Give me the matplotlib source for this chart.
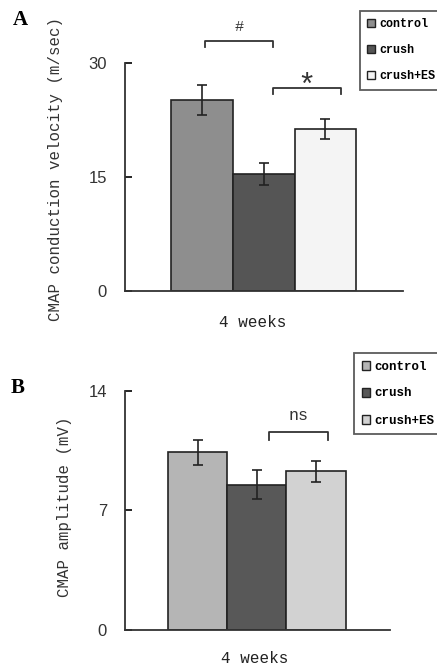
import matplotlib
matplotlib.use("Agg")
import matplotlib.pyplot as plt
from matplotlib.patches import Patch

groups = ["control", "crush", "crush+ES"]
vel_means = [25.1, 15.4, 21.3]
vel_errs = [2.0, 1.5, 1.35]
amp_means = [10.4, 8.5, 9.3]
amp_errs = [0.75, 0.85, 0.62]
colors_a = ["#8e8e8e", "#555555", "#f4f4f4"]
colors_b = ["#b5b5b5", "#585858", "#d2d2d2"]
xlabel = "4 weeks"

mono = ["Liberation Mono", "DejaVu Sans Mono"]
fig = plt.figure(figsize=(4.37, 6.68), dpi=100)

def panel(rect, means, errs, colors, ylim, yticks, ylab, xlim, ylab_pos, xlab_pos):
    ax = fig.add_axes(rect)
    x = list(range(len(means)))
    ax.bar(x, means, width=1.0, color=colors, edgecolor="#222222", linewidth=1.2)
    ax.errorbar(x, means, yerr=errs, fmt="none", ecolor="#222222", elinewidth=1.2, capsize=3.5, capthick=1.2)
    ax.set_xlim(*xlim)
    ax.set_ylim(*ylim)
    ax.set_yticks(yticks)
    ax.set_yticklabels([str(t) for t in yticks], fontsize=12, color="#333333", family="Liberation Sans")
    ax.tick_params(axis="y", direction="in", length=5, width=1.2, pad=13)
    ax.set_xticks([])
    for s in ["top", "right"]:
        ax.spines[s].set_visible(False)
    for s in ["left", "bottom"]:
        ax.spines[s].set_linewidth(1.3)
        ax.spines[s].set_color("#333333")
    ax.set_ylabel(ylab, fontsize=11.3, family=mono, color="#333333")
    ax.yaxis.set_label_coords(*ylab_pos)
    ax.set_xlabel(xlabel, fontsize=11.5, family=mono, color="#222222")
    ax.xaxis.set_label_coords(*xlab_pos)
    return ax

def bracket(ax, x0, x1, y, drop, text, fs, ty):
    ax.plot([x0, x0, x1, x1], [y - drop, y, y, y - drop], color="#333333", lw=1.3, clip_on=False)
    ax.text((x0 + x1) / 2, ty, text, ha="center", va="center", fontsize=fs, family=mono, color="#333333", clip_on=False)

axA = panel([0.286, 0.5644, 0.636, 0.3413], vel_means, vel_errs, colors_a, (0, 30), [0, 15, 30],
            "CMAP conduction velocity (m/sec)", (-1.245, 3.255), (-0.223, 0.535), (0.46, -0.105))
bracket(axA, 0.05, 1.15, 32.9, 0.8, "#", 11, 34.8)
bracket(axA, 1.15, 2.25, 26.7, 0.8, "*", 22, 26.9)

axB = panel([0.286, 0.0569, 0.606, 0.3578], amp_means, amp_errs, colors_b, (0, 14), [0, 7, 14],
            "CMAP amplitude (mV)", (-1.225, 3.244), (-0.2, 0.515), (0.49, -0.088))
bracket(axB, 1.2, 2.2, 11.6, 0.45, "ns", 12, 12.55)

def legend(ax, colors, anchor, size):
    handles = [Patch(facecolor=c, edgecolor="#222222", linewidth=1.0) for c in colors]
    leg = fig.legend(handles, groups, loc="upper left", bbox_to_anchor=anchor, bbox_transform=fig.transFigure,
                     prop={"family": mono, "size": size, "weight": "bold"}, handlelength=0.7, handleheight=0.7,
                     handletextpad=0.3, labelspacing=1.2, borderpad=0.6, fancybox=False, frameon=True,
                     borderaxespad=0)
    leg.get_frame().set_edgecolor("#333333")
    leg.get_frame().set_linewidth(1.3)

legend(axA, colors_a, (360 / 437, 1 - 11 / 668), 8.5)
legend(axB, colors_b, (354 / 437, 1 - 353 / 668), 9)

fig.text(20 / 437, 1 - 20 / 668, "A", fontsize=15, weight="bold", family="Liberation Serif", ha="center", va="center")
fig.text(18 / 437, 1 - 388 / 668, "B", fontsize=15, weight="bold", family="Liberation Serif", ha="center", va="center")

fig.savefig("out.png", dpi=100)
